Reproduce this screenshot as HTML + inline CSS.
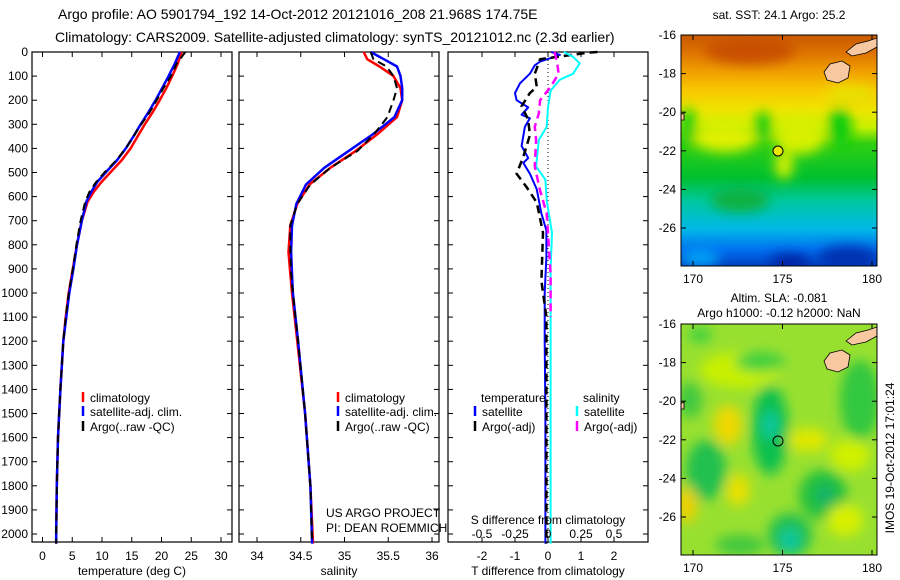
<!DOCTYPE html>
<html><head><meta charset="utf-8">
<style>
html,body{margin:0;padding:0;background:#fff;}
svg{display:block;font-family:"Liberation Sans",sans-serif;}
text{fill:#000;}
</style></head>
<body>
<svg id="fig" width="900" height="580" viewBox="0 0 900 580" xmlns="http://www.w3.org/2000/svg">
<defs>
<linearGradient id="sstGrad" x1="0" y1="0" x2="0" y2="1">
<stop offset="0" stop-color="#c85a00"/><stop offset="0.07" stop-color="#dc7000"/>
<stop offset="0.16" stop-color="#f0a000"/><stop offset="0.24" stop-color="#f8c800"/>
<stop offset="0.32" stop-color="#f0e400"/><stop offset="0.4" stop-color="#c8f000"/>
<stop offset="0.47" stop-color="#30d010"/><stop offset="0.62" stop-color="#00c030"/>
<stop offset="0.72" stop-color="#00c8a0"/><stop offset="0.84" stop-color="#00b8e8"/>
<stop offset="0.93" stop-color="#0070f0"/><stop offset="1" stop-color="#0040c0"/>
</linearGradient>
<filter id="blur" x="-50%" y="-50%" width="200%" height="200%"><feGaussianBlur stdDeviation="6"/></filter>
<clipPath id="clipTop"><rect x="681" y="35" width="196" height="231"/></clipPath>
<clipPath id="clipBot"><rect x="681" y="324" width="196" height="231"/></clipPath>
</defs>

<text x="58" y="19" font-size="14">Argo profile: AO 5901794_192 14-Oct-2012 20121016_208 21.968S 174.75E</text>
<text x="55" y="42" font-size="14">Climatology: CARS2009. Satellite-adjusted climatology: synTS_20121012.nc (2.3d earlier)</text>

<g id="panels"></g>

<!-- Top map -->
<g>
<text x="779" y="19" font-size="12" text-anchor="middle">sat. SST: 24.1 Argo: 25.2</text>
<g clip-path="url(#clipTop)">
<rect x="681" y="35" width="196" height="231" fill="url(#sstGrad)"/>
<g filter="url(#blur)">
<ellipse cx="750" cy="50" rx="45" ry="14" fill="#c85000"/>
<ellipse cx="850" cy="95" rx="25" ry="10" fill="#e8e000"/>
<ellipse cx="725" cy="138" rx="32" ry="14" fill="#e0f000"/>
<ellipse cx="800" cy="136" rx="26" ry="18" fill="#d8f000"/>
<ellipse cx="784" cy="165" rx="9" ry="14" fill="#d8f000"/>
<ellipse cx="763" cy="128" rx="9" ry="16" fill="#10cc10"/>
<ellipse cx="840" cy="128" rx="12" ry="20" fill="#10cc10"/>
<ellipse cx="688" cy="128" rx="8" ry="20" fill="#10cc10"/>
<ellipse cx="740" cy="200" rx="30" ry="12" fill="#10b040"/>
<ellipse cx="700" cy="258" rx="20" ry="8" fill="#00a8f8"/>
<ellipse cx="790" cy="262" rx="20" ry="8" fill="#0020a0"/>
<ellipse cx="848" cy="258" rx="30" ry="12" fill="#0030b0"/>
</g>
<path d="M824,72 L830,64 L842,61 L850,66 L848,78 L838,83 L827,80 Z" fill="#f8c8a0" stroke="#000" stroke-width="0.8"/>
<path d="M846,52 L856,44 L868,41 L877,38 L877,47 L866,53 L852,56 Z" fill="#f8c8a0" stroke="#000" stroke-width="0.8"/>
<path d="M680,115 L684,113 L684,120 L680,120 Z" fill="#f8c8a0" stroke="#000" stroke-width="0.8"/>
<circle cx="778" cy="151" r="5" fill="#e8e800" stroke="#000" stroke-width="1"/>
</g>
<rect x="681" y="35" width="196" height="231" fill="none" stroke="#000" stroke-width="1"/>
</g>

<!-- Bottom map -->
<g>
<text x="779" y="302" font-size="12" text-anchor="middle">Altim. SLA: -0.081</text>
<text x="779" y="317" font-size="12" text-anchor="middle">Argo h1000: -0.12 h2000: NaN</text>
<g clip-path="url(#clipBot)">
<rect x="681" y="324" width="196" height="231" fill="#98e030"/>
<g filter="url(#blur)">
<ellipse cx="740" cy="370" rx="40" ry="18" fill="#c8f000"/>
<ellipse cx="700" cy="335" rx="12" ry="8" fill="#40d040"/>
<ellipse cx="770" cy="430" rx="18" ry="45" fill="#10c050"/>
<ellipse cx="770" cy="425" rx="8" ry="14" fill="#10c8a0"/>
<ellipse cx="706" cy="470" rx="20" ry="30" fill="#20c050"/>
<ellipse cx="823" cy="495" rx="24" ry="25" fill="#20c040"/>
<ellipse cx="825" cy="495" rx="8" ry="10" fill="#10b070"/>
<ellipse cx="790" cy="535" rx="22" ry="22" fill="#20c050"/>
<ellipse cx="790" cy="540" rx="10" ry="12" fill="#10c8a0"/>
<ellipse cx="860" cy="400" rx="20" ry="40" fill="#30c840"/>
<ellipse cx="760" cy="362" rx="25" ry="10" fill="#40d040"/>
<ellipse cx="728" cy="425" rx="14" ry="20" fill="#f0d800"/>
<ellipse cx="687" cy="505" rx="10" ry="18" fill="#f0d000"/>
<ellipse cx="738" cy="490" rx="12" ry="16" fill="#e8e000"/>
<ellipse cx="808" cy="440" rx="20" ry="12" fill="#e0e800"/>
<ellipse cx="845" cy="520" rx="18" ry="16" fill="#d8f000"/>
<ellipse cx="690" cy="400" rx="12" ry="18" fill="#40c840"/>
<ellipse cx="850" cy="455" rx="20" ry="16" fill="#d0f000"/>
<ellipse cx="740" cy="545" rx="25" ry="10" fill="#40c840"/>
</g>
<path d="M824,361 L830,353 L842,350 L850,355 L848,367 L838,372 L827,369 Z" fill="#f8c8a0" stroke="#000" stroke-width="0.8"/>
<path d="M846,341 L856,333 L868,330 L877,327 L877,336 L866,342 L852,345 Z" fill="#f8c8a0" stroke="#000" stroke-width="0.8"/>
<path d="M680,404 L684,402 L684,409 L680,409 Z" fill="#f8c8a0" stroke="#000" stroke-width="0.8"/>
<circle cx="778" cy="441" r="5" fill="none" stroke="#000" stroke-width="1"/>
</g>
<rect x="681" y="324" width="196" height="231" fill="none" stroke="#000" stroke-width="1"/>
</g>
<g id="maplabels"></g>
<text transform="translate(894,458) rotate(-90)" font-size="12" text-anchor="middle">IMOS 19-Oct-2012 17:01:24</text>
</svg>

<script>
// ---- data ----
const depthTicks = [0,100,200,300,400,500,600,700,800,900,1000,1100,1200,1300,1400,1500,1600,1700,1800,1900,2000];
const tempTicks = [0,5,10,15,20,25,30];
const salTicks = [34,34.5,35,35.5,36];
const salTickLabels = ["34","34.5","35","35.5","36"];
const dTTicks = [-2,-1,0,1,2];
const dSTicks = [-0.5,-0.25,0,0.25,0.5];
const dSTickLabels = ["-0.5","-0.25","0","0.25","0.5"];

const tempDepth = [0,50,100,150,200,250,300,350,400,450,500,540,580,620,700,800,900,1000,1100,1200,1400,1600,1800,2000,2040];
const tempClim = [23.4,22.7,21.8,20.8,19.7,18.5,17.2,16.0,14.8,13.3,11.4,9.9,8.6,7.6,6.6,5.8,5.1,4.4,3.9,3.5,3.0,2.6,2.4,2.3,2.3];
const tempSat = [23.1,22.2,21.2,20.1,19.0,17.8,16.5,15.3,14.0,12.5,10.6,9.2,8.2,7.4,6.6,5.8,5.2,4.5,4.0,3.5,3.0,2.6,2.4,2.3,2.3];
const tempArgo = [24.0,22.5,21.6,20.3,19.2,18.0,16.6,15.3,14.0,12.4,10.4,9.0,7.9,7.2,6.4,5.7,5.1,4.4,3.9,3.5,3.0,2.6,2.4,2.3,2.3];

const salDepth = [0,30,60,100,150,200,270,340,410,480,550,630,720,830,920,1000,1200,1500,1800,2040];
const salClim = [35.22,35.26,35.40,35.56,35.64,35.66,35.60,35.38,35.13,34.84,34.60,34.46,34.38,34.36,34.38,34.40,34.46,34.55,34.61,34.64];
const salSat = [35.30,35.45,35.60,35.64,35.66,35.66,35.57,35.33,35.05,34.77,34.56,34.45,34.40,34.39,34.40,34.41,34.47,34.55,34.61,34.63];
const salArgo = [35.30,35.33,35.48,35.56,35.60,35.56,35.49,35.34,35.15,34.84,34.61,34.46,34.38,34.38,34.39,34.41,34.47,34.55,34.61,34.63];

const dTSatDepth = [0,12,40,55,90,130,170,200,230,260,275,310,390,440,460,505,570,670,740,850,1000,1200,1500,2040];
const dTSat = [0.1,0.36,-0.24,-0.4,-0.55,-0.85,-1.0,-0.95,-0.6,-0.8,-0.55,-0.7,-0.8,-0.6,-0.75,-0.55,-0.34,-0.2,-0.05,-0.05,-0.1,-0.1,-0.08,-0.08];
const dTArgoDepth = [0,3,30,90,145,170,225,280,345,435,505,560,625,750,950,1100,1500,2040];
const dTArgo = [1.5,1.2,-0.24,-0.4,-0.34,-0.55,-0.8,-0.6,-0.55,-0.75,-0.95,-0.65,-0.34,-0.15,-0.2,-0.05,-0.05,-0.05];
const dSSatDepth = [0,20,47,90,115,160,230,310,365,475,530,615,750,900,1200,1500,2040];
const dSSat = [0.12,0.19,0.24,0.19,0.09,0.02,0.0,-0.01,-0.07,-0.09,-0.02,-0.01,0.03,0.02,0.02,0.02,0.02];
const dSArgoDepth = [0,45,90,145,200,255,310,365,475,575,670,920,1100];
const dSArgo = [0.05,0.07,0.08,0.02,-0.06,-0.07,-0.1,-0.09,-0.1,-0.06,-0.01,0.02,0.02];

const latTicks = [-16,-18,-20,-22,-24,-26];
const lonTicks = [170,175,180];

// ---- helpers ----
const NS = "http://www.w3.org/2000/svg";
const root = document.getElementById('panels');
function el(tag, attrs, parent, txt){
  const e = document.createElementNS(NS, tag);
  for (const k in attrs) e.setAttribute(k, attrs[k]);
  if (txt !== undefined) e.textContent = txt;
  (parent || root).appendChild(e);
  return e;
}
const TOP = 52, BOT = 542;
const yD = d => TOP + d * 0.241;
const panels = [
  {x0:32, x1:232, f: v => 42.5 + v * 5.95},
  {x0:239, x1:439, f: v => 257 + (v - 34) * 87.5},
  {x0:448, x1:648, f: v => 548 + v * 33},
];
const xS = v => 548 + v * 132;

function frame(p, name){
  const r = el('rect', {x:p.x0, y:TOP, width:p.x1-p.x0, height:BOT-TOP, fill:'none', stroke:'#000', 'stroke-width':1.2});
  
  
  depthTicks.forEach(d => {
    el('line', {x1:p.x0, x2:p.x0+5, y1:yD(d), y2:yD(d), stroke:'#000'});
    el('line', {x1:p.x1, x2:p.x1-5, y1:yD(d), y2:yD(d), stroke:'#000'});
  });
}
function xTicks(p, vals, labels, fx, name){
  vals.forEach((v,i) => {
    const x = fx(v);
    el('line', {x1:x, x2:x, y1:TOP, y2:TOP+5, stroke:'#000'});
    el('line', {x1:x, x2:x, y1:BOT, y2:BOT-5, stroke:'#000'});
    const t = el('text', {x:x, y:BOT+18, 'font-size':12, 'text-anchor':'middle'}, root, labels[i]);
    
    
  });
}
function line(xs, ds, fx, color, name, dash, w){
  const pts = xs.map((v,i) => fx(v).toFixed(1) + ',' + yD(ds[i]).toFixed(1)).join(' ');
  const pl = el('polyline', {points:pts, fill:'none', stroke:color, 'stroke-width':w||2.5, 'stroke-dasharray':dash||'none', 'stroke-linejoin':'round'});
  
  
}
function legend(x, y, color, label, name){
  el('line', {x1:x, x2:x, y1:y-10, y2:y, stroke:color, 'stroke-width':2.5});
  const t = el('text', {x:x+7, y:y, 'font-size':12}, root, label);
  
  
}
function txt(x, y, s, name, anchor){
  const t = el('text', {x:x, y:y, 'font-size':12, 'text-anchor':anchor||'start'}, root, s);
  
  
}

depthTicks.forEach(d => {
  const t = el('text', {x:28, y:yD(d)+4, 'font-size':12, 'text-anchor':'end'}, root, String(d));
  
  
});

const p1 = panels[0];
frame(p1, 'temperature-panel-frame');
xTicks(p1, tempTicks, tempTicks.map(String), p1.f, 'temperature');
line(tempClim, tempDepth, p1.f, '#ff0000', 'temperature-climatology-line');
line(tempSat, tempDepth, p1.f, '#0000ff', 'temperature-satellite-line');
line(tempArgo, tempDepth, p1.f, '#000000', 'temperature-argo-line', '8,5', 2);
txt(132, 575, 'temperature (deg C)', 'temperature-axis-title', 'middle');
legend(83, 402, '#ff0000', 'climatology', 'legend-climatology');
legend(83, 416, '#0000ff', 'satellite-adj. clim.', 'legend-satellite-adj');
legend(83, 431, '#000000', 'Argo(..raw -QC)', 'legend-argo');

const p2 = panels[1];
frame(p2, 'salinity-panel-frame');
xTicks(p2, salTicks, salTickLabels, p2.f, 'salinity');
line(salClim, salDepth, p2.f, '#ff0000', 'salinity-climatology-line');
line(salSat, salDepth, p2.f, '#0000ff', 'salinity-satellite-line');
line(salArgo, salDepth, p2.f, '#000000', 'salinity-argo-line', '8,5', 2);
txt(339, 575, 'salinity', 'salinity-axis-title', 'middle');
legend(338, 402, '#ff0000', 'climatology', 'legend-climatology-2');
legend(338, 416, '#0000ff', 'satellite-adj. clim.', 'legend-satellite-adj-2');
legend(338, 431, '#000000', 'Argo(..raw -QC)', 'legend-argo-2');
txt(326, 517, 'US ARGO PROJECT', 'project-label');
txt(326, 532, 'PI: DEAN ROEMMICH', 'pi-label');

const p3 = panels[2];
frame(p3, 'difference-panel-frame');
xTicks(p3, dTTicks, dTTicks.map(String), p3.f, 'temp-diff');
el('line', {x1:548, x2:548, y1:TOP, y2:BOT, stroke:'#000', 'stroke-dasharray':'1,3'});
line(dTSat, dTSatDepth, p3.f, '#0000ff', 'temp-diff-satellite-line', null, 2);
line(dTArgo, dTArgoDepth, p3.f, '#000000', 'temp-diff-argo-line', '8,5', 2.5);
line(dSSat, dSSatDepth, xS, '#00ffff', 'sal-diff-satellite-line', null, 2);
line(dSArgo, dSArgoDepth, xS, '#ff00ff', 'sal-diff-argo-line', '8,5', 2.5);
dSTicks.forEach((v,i) => {
  const t = el('text', {x:xS(v), y:538, 'font-size':12, 'text-anchor':'middle'}, root, dSTickLabels[i]);
  
  
});
txt(548, 524, 'S difference from climatology', 'sal-diff-axis-title', 'middle');
txt(548, 575, 'T difference from climatology', 'temp-diff-axis-title', 'middle');
txt(481, 402, 'temperature', 'legend-temperature-header');
txt(583, 402, 'salinity', 'legend-salinity-header');
legend(475, 416, '#0000ff', 'satellite', 'legend-temp-satellite');
legend(475, 431, '#000000', 'Argo(-adj)', 'legend-temp-argo');
legend(577, 416, '#00ffff', 'satellite', 'legend-sal-satellite');
legend(577, 431, '#ff00ff', 'Argo(-adj)', 'legend-sal-argo');

const ml = document.getElementById('maplabels');
[[35,266],[324,555]].forEach((m, mi) => {
  latTicks.forEach(lat => {
    const y = m[0] + (-16 - lat) * 19.3;
    const t = el('text', {x:676, y:y+4, 'font-size':12, 'text-anchor':'end'}, ml, String(lat));
    
    
    el('line', {x1:877, x2:872, y1:y, y2:y, stroke:'#000'}, ml);
    el('line', {x1:681, x2:686, y1:y, y2:y, stroke:'#000'}, ml);
  });
  lonTicks.forEach(lon => {
    const x = 693 + (lon - 170) * 17.9;
    const t = el('text', {x:x, y:m[1]+17, 'font-size':12, 'text-anchor':'middle'}, ml, String(lon));
    
    
    el('line', {x1:x, x2:x, y1:m[0], y2:m[0]+5, stroke:'#000'}, ml);
    el('line', {x1:x, x2:x, y1:m[1], y2:m[1]-5, stroke:'#000'}, ml);
  });
});
</script>
</body></html>
